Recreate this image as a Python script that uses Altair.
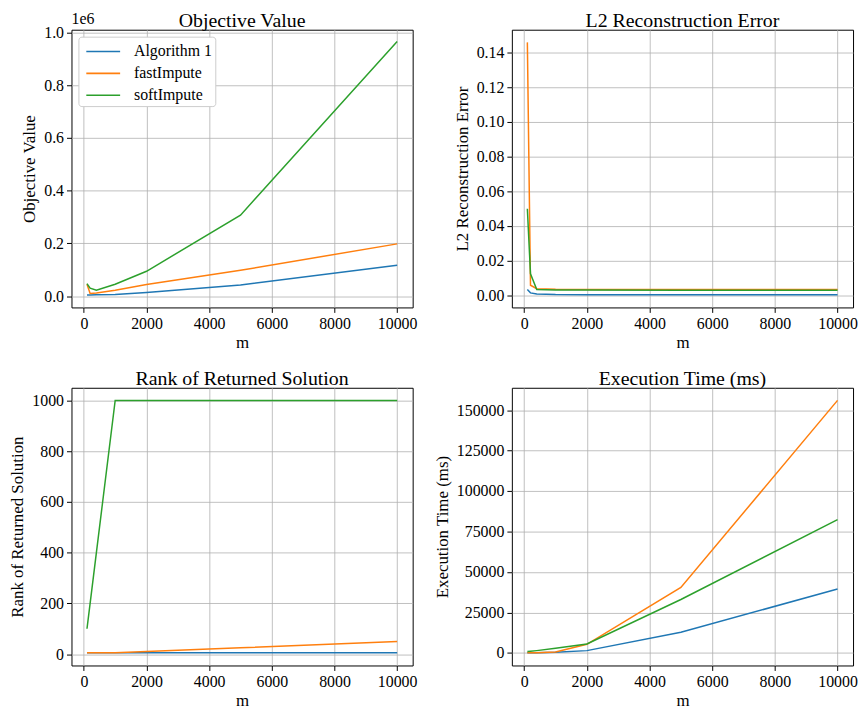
import altair as alt
import pandas as pd

m_values = [100, 200, 400, 1000, 2000, 5000, 10000]
methods = ["Algorithm 1", "fastImpute", "softImpute"]
colors = ["#1f77b4", "#ff7f0e", "#2ca02c"]

# Objective value (x 1e6)
obj_alg1 = [0.004, 0.004, 0.005, 0.006, 0.014, 0.042, 0.117]
obj_fast = [0.045, 0.010, 0.012, 0.022, 0.044, 0.098, 0.198]
obj_soft = [0.047, 0.030, 0.022, 0.045, 0.094, 0.307, 0.965]

# L2 reconstruction error
l2_alg1 = [0.0032, 0.0013, 0.0006, 0.0003, 0.0002, 0.0002, 0.0002]
l2_fast = [0.1458, 0.0057, 0.0037, 0.0034, 0.0033, 0.0033, 0.0033]
l2_soft = [0.0498, 0.0123, 0.0032, 0.0029, 0.0029, 0.0028, 0.0028]

# Rank of returned solution
rank_alg1 = [5, 5, 5, 5, 5, 5, 5]
rank_fast = [5, 5, 5, 5, 10, 25, 50]
rank_soft = [100, 200, 400, 1000, 1000, 1000, 1000]

# Execution time (ms)
time_alg1 = [20, 40, 100, 400, 1400, 12700, 39500]
time_fast = [50, 80, 150, 500, 5300, 40400, 156000]
time_soft = [800, 1000, 1400, 2800, 5500, 33000, 82300]

FONT = "Liberation Serif"
W, H = 344, 280


def long_df(a, b, c):
    rows = []
    for name, vals in zip(methods, [a, b, c]):
        for m, v in zip(m_values, vals):
            rows.append({"m": m, "value": v, "method": name})
    return pd.DataFrame(rows)


def panel(df, title, ytitle, ydomain, yticks, yfmt, legend=False, offset_text=None):
    color_legend = (
        alt.Legend(
            title=None,
            orient="top-left",
            offset=7,
            fillColor="white",
            strokeColor="#cccccc",
            cornerRadius=3,
            padding=3,
            symbolType="M-1.55,0H1.55",
            symbolSize=484,
            symbolStrokeWidth=1.6,
            symbolOffset=10,
            labelFont=FONT,
            labelFontSize=16,
            labelColor="black",
            labelOffset=19,
            rowPadding=2,
        )
        if legend
        else None
    )
    line = (
        alt.Chart(df)
        .mark_line(strokeWidth=1.5)
        .encode(
            x=alt.X(
                "m:Q",
                title="m",
                scale=alt.Scale(domain=[-395, 10495], nice=False, zero=False),
                axis=alt.Axis(values=[0, 2000, 4000, 6000, 8000, 10000], format="d", titlePadding=3),
            ),
            y=alt.Y(
                "value:Q",
                title=ytitle,
                scale=alt.Scale(domain=ydomain, nice=False, zero=False),
                axis=alt.Axis(values=yticks, format=yfmt, titlePadding=5),
            ),
            color=alt.Color(
                "method:N",
                scale=alt.Scale(domain=methods, range=colors),
                legend=color_legend,
            ),
        )
    )
    layers = [line]
    ttl = (
        alt.Chart(pd.DataFrame({"t": [title]}))
        .mark_text(align="center", baseline="top", font=FONT, fontSize=20, color="black")
        .encode(text="t:N", x=alt.value(W / 2), y=alt.value(-19))
    )
    layers.append(ttl)
    if offset_text:
        txt = (
            alt.Chart(pd.DataFrame({"t": [offset_text]}))
            .mark_text(align="left", baseline="alphabetic", font=FONT, fontSize=16, color="black")
            .encode(text="t:N", x=alt.value(0), y=alt.value(-6))
        )
        layers.append(txt)
    return (
        alt.layer(*layers)
        .resolve_scale(color="independent")
        .properties(width=W, height=H)
    )


p1 = panel(long_df(obj_alg1, obj_fast, obj_soft), "Objective Value", "Objective Value",
           [-0.043, 1.010], [0, 0.2, 0.4, 0.6, 0.8, 1.0], ".1f", legend=True, offset_text="1e6")
p2 = panel(long_df(l2_alg1, l2_fast, l2_soft), "L2 Reconstruction Error", "L2 Reconstruction Error",
           [-0.0071, 0.1531], [0, 0.02, 0.04, 0.06, 0.08, 0.10, 0.12, 0.14], ".2f")
p3 = panel(long_df(rank_alg1, rank_fast, rank_soft), "Rank of Returned Solution", "Rank of Returned Solution",
           [-44.75, 1049.75], [0, 200, 400, 600, 800, 1000], "d")
p4 = panel(long_df(time_alg1, time_fast, time_soft), "Execution Time (ms)", "Execution Time (ms)",
           [-7780, 163800], [0, 25000, 50000, 75000, 100000, 125000, 150000], "d")

chart = (
    alt.concat(p1, p2, p3, p4, columns=2, spacing={"row": 81, "column": 100}, bounds="flush")
    .resolve_scale(color="independent")
    .resolve_legend(color="independent")
    .properties(padding={"left": 0, "top": -1, "right": 0, "bottom": 0})
    .configure(background="white")
    .configure_view(stroke="black", strokeWidth=1)
    .configure_axis(
        labelFont=FONT,
        labelFontSize=16,
        labelColor="black",
        titleFont=FONT,
        titleFontSize=17,
        titleFontWeight="normal",
        titleColor="black",
        grid=True,
        gridColor="#b0b0b0",
        gridWidth=0.8,
        domain=False,
        tickColor="black",
        tickSize=5,
        labelPadding=3,
    )
)

chart.save("out.html", embed_options={"renderer": "svg", "actions": False})
